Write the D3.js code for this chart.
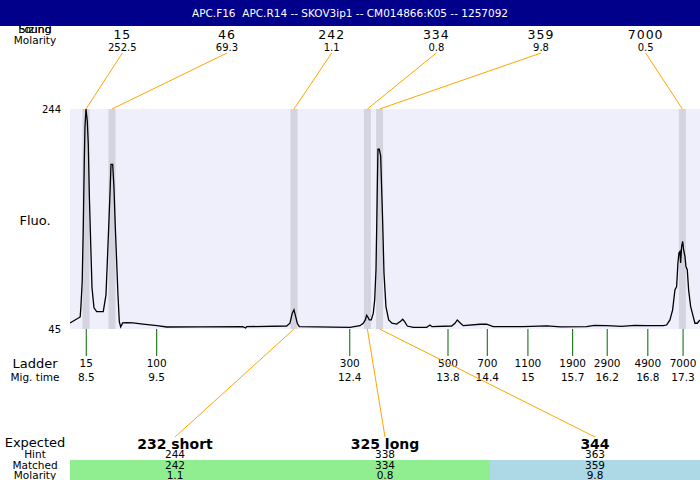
<!DOCTYPE html>
<html lang="en">
<head>
	<meta charset="utf-8">
	<script src="https://d3js.org/d3.v7.min.js"></script>
	<style type="text/css">
		body { margin: 0; }
		svg text { font-family: "DejaVu Sans", sans-serif; }
		.title { white-space: pre; }
	</style>
	<title>Electropherogram</title>
</head>
<body>
	<svg id="chart" width="700" height="480"></svg>

	<script type="text/javascript">

		var title = "APC.F16  APC.R14 -- SKOV3ip1 -- CM014866:K05 -- 1257092";

		// peaks found (top row)
		var foundSize = [15, 46, 242, 334, 359, 7000];
		var foundMolarity = ["252.5", "69.3", "1.1", "0.8", "9.8", "0.5"];
		var foundTime = [8.496, 8.88, 11.567, 12.65, 12.83, 17.30];

		// ladder
		var ladderSize = [15, 100, 300, 500, 700, 1100, 1900, 2900, 4900, 7000];
		var ladderTime = [8.5, 9.54, 12.39, 13.84, 14.42, 15.02, 15.68, 16.19, 16.79, 17.31];

		// expected products (bottom)
		var expected = ["232 short", "325 long", "344"];
		var hint = [244, 338, 363];
		var matched = [242, 334, 359];
		var matchedMolarity = ["1.1", "0.8", "9.8"];
		var matchedPeak = [2, 3, 4];
		var matchColor = ["#90ee90", "#90ee90", "#add8e6"];

		// trace: migration time, fluorescence
		var traceTime = [8.26, 8.41, 8.42, 8.44, 8.456, 8.471, 8.481, 8.496, 8.515, 8.53, 8.545, 8.566, 8.585, 8.614, 8.654,
			8.751, 8.791, 8.811, 8.831, 8.85, 8.865, 8.89, 8.909, 8.929, 8.949, 8.968, 8.988, 9.008, 9.038, 9.097,
			9.19, 9.338, 9.544, 9.687, 10.2, 10.81, 10.853, 10.868, 11.458, 11.507, 11.541, 11.566, 11.585, 11.615, 11.645,
			12.393, 12.54, 12.589, 12.619, 12.639, 12.659, 12.678, 12.707, 12.737, 12.758, 12.777, 12.787, 12.796, 12.806, 12.825,
			12.846, 12.855, 12.876, 12.895, 12.924, 12.964, 13.013, 13.082, 13.141, 13.171, 13.2, 13.239, 13.327, 13.525, 13.574,
			13.603, 13.894, 13.943, 13.977, 14.017, 14.065, 14.312, 14.41, 14.508, 14.951, 15.3, 15.5, 15.886, 16.0, 16.182,
			16.4, 16.6, 16.772, 17.017, 17.067, 17.116, 17.156, 17.19, 17.215, 17.234, 17.249, 17.264, 17.274, 17.289, 17.304,
			17.318, 17.338, 17.352, 17.372, 17.392, 17.422, 17.46, 17.485, 17.519, 17.559];
		var traceFluo = [50.5, 55.9, 64.1, 87.7, 136.8, 196.8, 227.6, 244, 233.1, 212.2, 166.8, 121.3, 82.3, 64.1, 60.7,
			60.7, 75.9, 105.9, 136.8, 166.8, 194.0, 194.0, 173.1, 136.8, 105.9, 75.9, 51.6, 46.8, 50.5, 50.7,
			50.5, 49.5, 48.0, 46.8, 47.0, 47.1, 45.9, 47.1, 47.7, 50.2, 59.3, 62.3, 57.7, 50.2, 47.1,
			46.5, 48.0, 50.2, 53.2, 57.4, 55.6, 53.2, 53.2, 59.3, 71.4, 98.6, 135.0, 171.3, 207.7, 207.7,
			201.6, 183.4, 141.0, 95.6, 65.3, 53.2, 50.2, 49.5, 52.0, 53.8, 51.6, 47.7, 46.5, 46.5, 48.6,
			47.1, 47.7, 50.2, 53.2, 50.7, 48.0, 49.3, 49.3, 47.1, 47.1, 47.8, 46.9, 47.1, 48.2, 48.0,
			47.3, 48.2, 48.0, 48.0, 48.6, 53.2, 62.3, 80.4, 83.4, 104.7, 113.8, 115.2, 104.7, 119.8, 124.3,
			116.8, 110.7, 101.6, 98.6, 80.4, 65.3, 56.2, 50.2, 50.2, 53.2];

		var yTicks = [45, 244];

		var svg = d3.select("#chart");
		var plotLeft = 70, plotRight = 700, plotTop = 109, plotBottom = 329;

		var x = d3.scaleLinear().domain([8.26, 17.56]).range([plotLeft, plotRight]);
		var y = d3.scaleLinear().domain([45, 244]).range([plotBottom, plotTop]);
		var topBand = d3.scaleBand().domain(d3.range(foundSize.length)).range([70, 698]);
		var botBand = d3.scaleBand().domain(d3.range(expected.length)).range([70, 700]);

		//Left labels (drawn before header so header covers them)
		var leftLabels = [
			{t: "Sizing", y: 33, s: 11}, {t: "Found", y: 33, s: 11}, {t: "Molarity", y: 44, s: 10.5},
			{t: "Fluo.", y: 225, s: 13}, {t: "Ladder", y: 368, s: 13}, {t: "Mig. time", y: 381, s: 10.5},
			{t: "Expected", y: 447, s: 13}, {t: "Hint", y: 458, s: 10.5}, {t: "Matched", y: 469, s: 10.5},
			{t: "Molarity", y: 479, s: 10.5}
		];
		svg.selectAll("text.left")
			.data(leftLabels)
			.enter().append("text")
			.attr("class", "left")
			.attr("x", 35)
			.attr("y", function(d) { return d.y; })
			.attr("text-anchor", "middle")
			.style("font-size", function(d) { return d.s + "px"; })
			.text(function(d) { return d.t; });

		//Header
		svg.append("rect")
			.attr("x", 0).attr("y", 0)
			.attr("width", 700).attr("height", 26)
			.attr("fill", "#00008b");
		svg.append("text")
			.attr("class", "title")
			.attr("x", 350).attr("y", 17)
			.attr("text-anchor", "middle")
			.attr("fill", "white")
			.style("font-size", "10.5px")
			.text(title);

		//Plot panel
		svg.append("rect")
			.attr("x", plotLeft).attr("y", plotTop)
			.attr("width", plotRight - plotLeft).attr("height", plotBottom - plotTop)
			.attr("fill", "#efeffc");

		svg.selectAll("rect.peak")
			.data(foundTime)
			.enter().append("rect")
			.attr("class", "peak")
			.attr("x", function(d) { return x(d) - 3.5; })
			.attr("y", plotTop)
			.attr("width", 7)
			.attr("height", plotBottom - plotTop)
			.attr("fill", "#d4d4e0");

		svg.append("clipPath").attr("id", "clip")
			.append("rect")
			.attr("x", plotLeft).attr("y", plotTop - 2)
			.attr("width", plotRight - plotLeft).attr("height", plotBottom - plotTop + 4);

		var line = d3.line()
			.x(function(d) { return x(d[0]); })
			.y(function(d) { return y(d[1]); });

		svg.append("path")
			.datum(d3.zip(traceTime, traceFluo))
			.attr("clip-path", "url(#clip)")
			.attr("d", line)
			.attr("fill", "none")
			.attr("stroke", "black")
			.attr("stroke-width", 1.3);

		//Y labels
		svg.selectAll("text.ytick")
			.data(yTicks)
			.enter().append("text")
			.attr("class", "ytick")
			.attr("x", 61)
			.attr("y", function(d) { return y(d) + 4; })
			.attr("text-anchor", "end")
			.style("font-size", "10px")
			.text(function(d) { return d; });

		//Top found labels and connectors
		svg.selectAll("line.top")
			.data(foundTime)
			.enter().append("line")
			.attr("class", "top")
			.attr("x1", function(d, i) { return topBand(i) + topBand.bandwidth() / 2; })
			.attr("y1", 53)
			.attr("x2", function(d) { return x(d); })
			.attr("y2", plotTop)
			.attr("stroke", "orange");

		svg.selectAll("text.fsize")
			.data(foundSize)
			.enter().append("text")
			.attr("class", "fsize")
			.attr("x", function(d, i) { return topBand(i) + topBand.bandwidth() / 2; })
			.attr("y", 39)
			.attr("text-anchor", "middle")
			.style("font-size", "12.5px")
			.style("letter-spacing", "1px")
			.text(function(d) { return d; });

		svg.selectAll("text.fmol")
			.data(foundMolarity)
			.enter().append("text")
			.attr("class", "fmol")
			.attr("x", function(d, i) { return topBand(i) + topBand.bandwidth() / 2; })
			.attr("y", 51)
			.attr("text-anchor", "middle")
			.style("font-size", "10px")
			.text(function(d) { return d; });

		//Ladder
		svg.selectAll("line.ladder")
			.data(ladderTime)
			.enter().append("line")
			.attr("class", "ladder")
			.attr("x1", function(d) { return x(d); })
			.attr("x2", function(d) { return x(d); })
			.attr("y1", plotBottom)
			.attr("y2", 356)
			.attr("stroke", "#006400");

		svg.selectAll("text.lsize")
			.data(ladderSize)
			.enter().append("text")
			.attr("class", "lsize")
			.attr("x", function(d, i) { return x(ladderTime[i]); })
			.attr("y", 367)
			.attr("text-anchor", "middle")
			.style("font-size", "10.5px")
			.text(function(d) { return d; });

		svg.selectAll("text.ltime")
			.data(ladderTime)
			.enter().append("text")
			.attr("class", "ltime")
			.attr("x", function(d) { return x(d); })
			.attr("y", 381)
			.attr("text-anchor", "middle")
			.style("font-size", "10.5px")
			.text(function(d) { return +d.toFixed(1); });

		//Matched bands
		svg.selectAll("rect.match")
			.data(matchColor)
			.enter().append("rect")
			.attr("class", "match")
			.attr("x", function(d, i) { return botBand(i); })
			.attr("y", 460)
			.attr("width", botBand.bandwidth())
			.attr("height", 20)
			.attr("fill", function(d) { return d; });

		//Bottom connectors
		svg.selectAll("line.bot")
			.data(matchedPeak)
			.enter().append("line")
			.attr("class", "bot")
			.attr("x1", function(d) { return x(foundTime[d]); })
			.attr("y1", plotBottom)
			.attr("x2", function(d, i) { return botBand(i) + botBand.bandwidth() / 2; })
			.attr("y2", 437)
			.attr("stroke", "orange");

		function bottomRow(cls, values, yy, size, weight) {
			svg.selectAll("text." + cls)
				.data(values)
				.enter().append("text")
				.attr("class", cls)
				.attr("x", function(d, i) { return botBand(i) + botBand.bandwidth() / 2; })
				.attr("y", yy)
				.attr("text-anchor", "middle")
				.style("font-size", size)
				.style("font-weight", weight)
				.text(function(d) { return d; });
		}
		bottomRow("exp", expected, 449, "14px", "bold");
		bottomRow("hint", hint, 458, "10.5px", "normal");
		bottomRow("matched", matched, 469, "10.5px", "normal");
		bottomRow("mmol", matchedMolarity, 479, "10.5px", "normal");

	</script>
</body>
</html>
